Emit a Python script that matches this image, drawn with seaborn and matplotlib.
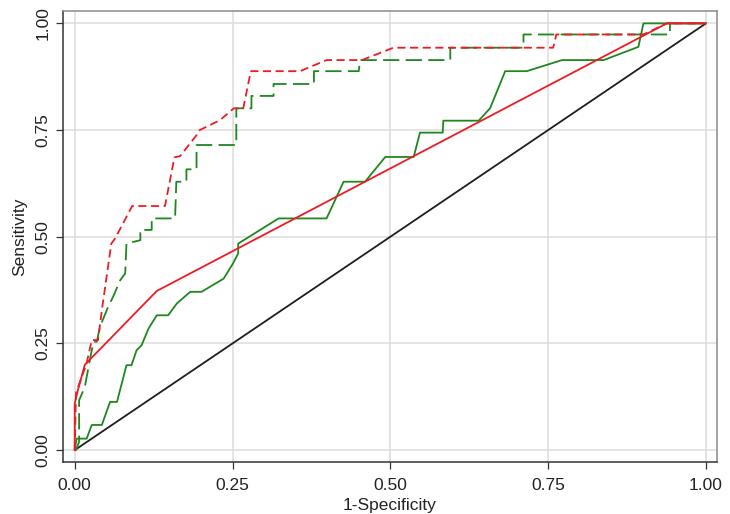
import numpy as np
import pandas as pd
import matplotlib
matplotlib.use("Agg")
import matplotlib.pyplot as plt
import seaborn as sns

# ---- data ----
red_dash_x = [0.0, 0.002, 0.019, 0.027, 0.037, 0.043, 0.058, 0.064, 0.091, 0.143, 0.158, 0.167,
              0.193, 0.198, 0.230, 0.252, 0.267, 0.279, 0.357, 0.399, 0.455, 0.505, 0.758, 0.763,
              0.901, 0.938, 1.0]
red_dash_y = [0.0, 0.134, 0.204, 0.258, 0.258, 0.328, 0.484, 0.496, 0.572, 0.572, 0.686, 0.689,
              0.738, 0.750, 0.773, 0.801, 0.801, 0.888, 0.888, 0.914, 0.914, 0.943, 0.943, 0.974,
              0.974, 1.0, 1.0]

green_dash_x = [0.0, 0.002, 0.007, 0.007, 0.016, 0.026, 0.030, 0.035, 0.040, 0.053, 0.061, 0.072,
                0.080, 0.082, 0.104, 0.104, 0.122, 0.122, 0.159, 0.161, 0.177, 0.177, 0.193, 0.193,
                0.256, 0.256, 0.280, 0.280, 0.315, 0.315, 0.379, 0.379, 0.450, 0.452, 0.595, 0.595,
                0.711, 0.711, 0.943, 0.943, 1.0]
green_dash_y = [0.0, 0.0, 0.02, 0.117, 0.148, 0.227, 0.254, 0.254, 0.289, 0.336, 0.36, 0.398,
                0.414, 0.484, 0.492, 0.516, 0.516, 0.543, 0.543, 0.629, 0.629, 0.658, 0.658, 0.715,
                0.715, 0.801, 0.801, 0.830, 0.830, 0.858, 0.858, 0.888, 0.888, 0.914, 0.914, 0.943,
                0.943, 0.974, 0.974, 1.0, 1.0]

green_solid_x = [0.0, 0.003, 0.019, 0.027, 0.043, 0.056, 0.067, 0.082, 0.090, 0.098, 0.106, 0.117,
                 0.130, 0.148, 0.162, 0.183, 0.201, 0.236, 0.251, 0.259, 0.259, 0.323, 0.399, 0.426,
                 0.460, 0.492, 0.537, 0.547, 0.583, 0.584, 0.640, 0.658, 0.682, 0.716, 0.772, 0.838,
                 0.893, 0.901, 1.0]
green_solid_y = [0.0, 0.027, 0.027, 0.059, 0.059, 0.113, 0.113, 0.199, 0.199, 0.234, 0.246, 0.285,
                 0.316, 0.316, 0.344, 0.371, 0.371, 0.402, 0.438, 0.461, 0.484, 0.543, 0.543, 0.629,
                 0.629, 0.687, 0.687, 0.744, 0.744, 0.772, 0.772, 0.801, 0.888, 0.888, 0.914, 0.914,
                 0.945, 1.0, 1.0]

red_solid_x = [0.0, 0.0, 0.005, 0.016, 0.130, 0.938, 1.0]
red_solid_y = [0.0, 0.109, 0.140, 0.200, 0.373, 1.0, 1.0]

ref_x = [0.0, 1.0]
ref_y = [0.0, 1.0]

ticks = [0.0, 0.25, 0.5, 0.75, 1.0]
tick_labels = ["0.00", "0.25", "0.50", "0.75", "1.00"]

# ---- style ----
sns.set_theme(style="white")
plt.rcParams['font.family'] = ['Liberation Sans', 'DejaVu Sans']

RED = "#ec1c24"
GREEN = "#1e871e"
lw = 1.3

fig = plt.figure(figsize=(7.30, 5.14), dpi=100)
ax = fig.add_axes([0.0859, 0.1018, 0.8967, 0.8768])

for t in ticks:
    ax.axvline(t, color="#dcdcdc", lw=1.1, zorder=0)
    ax.axhline(t, color="#dcdcdc", lw=1.1, zorder=0)

sns.lineplot(x=ref_x, y=ref_y, ax=ax, sort=False, estimator=None, color="#1e1e1e", lw=lw)
sns.lineplot(x=green_solid_x, y=green_solid_y, ax=ax, sort=False, estimator=None, color=GREEN, lw=lw)
sns.lineplot(x=green_dash_x, y=green_dash_y, ax=ax, sort=False, estimator=None, color=GREEN, lw=lw,
             linestyle=(0, (9, 3.5)))
sns.lineplot(x=red_solid_x, y=red_solid_y, ax=ax, sort=False, estimator=None, color=RED, lw=lw)
sns.lineplot(x=red_dash_x, y=red_dash_y, ax=ax, sort=False, estimator=None, color=RED, lw=lw,
             linestyle=(0, (4.5, 2.5)))

ax.set_xlim(-0.019, 1.018)
ax.set_ylim(-0.027, 1.029)
ax.set_xticks(ticks)
ax.set_xticklabels(tick_labels)
ax.set_yticks(ticks)
ax.set_yticklabels(tick_labels, rotation=90, va="center")
ax.tick_params(axis="both", direction="out", length=5, width=0.9, color="#333333",
               labelsize=12.5, labelcolor="#222222", bottom=True, left=True)
ax.tick_params(axis="x", pad=7)
ax.tick_params(axis="y", pad=4)
ax.set_xlabel("1-Specificity", fontsize=12.5, color="#222222", labelpad=3)
ax.set_ylabel("Sensitivity", fontsize=12.5, color="#222222", labelpad=6)

for s in ["left", "bottom"]:
    ax.spines[s].set_color("#333333")
    ax.spines[s].set_linewidth(1.1)
for s in ["top", "right"]:
    ax.spines[s].set_color("#8a8a8a")
    ax.spines[s].set_linewidth(1.1)

fig.savefig("out.png", dpi=100)
